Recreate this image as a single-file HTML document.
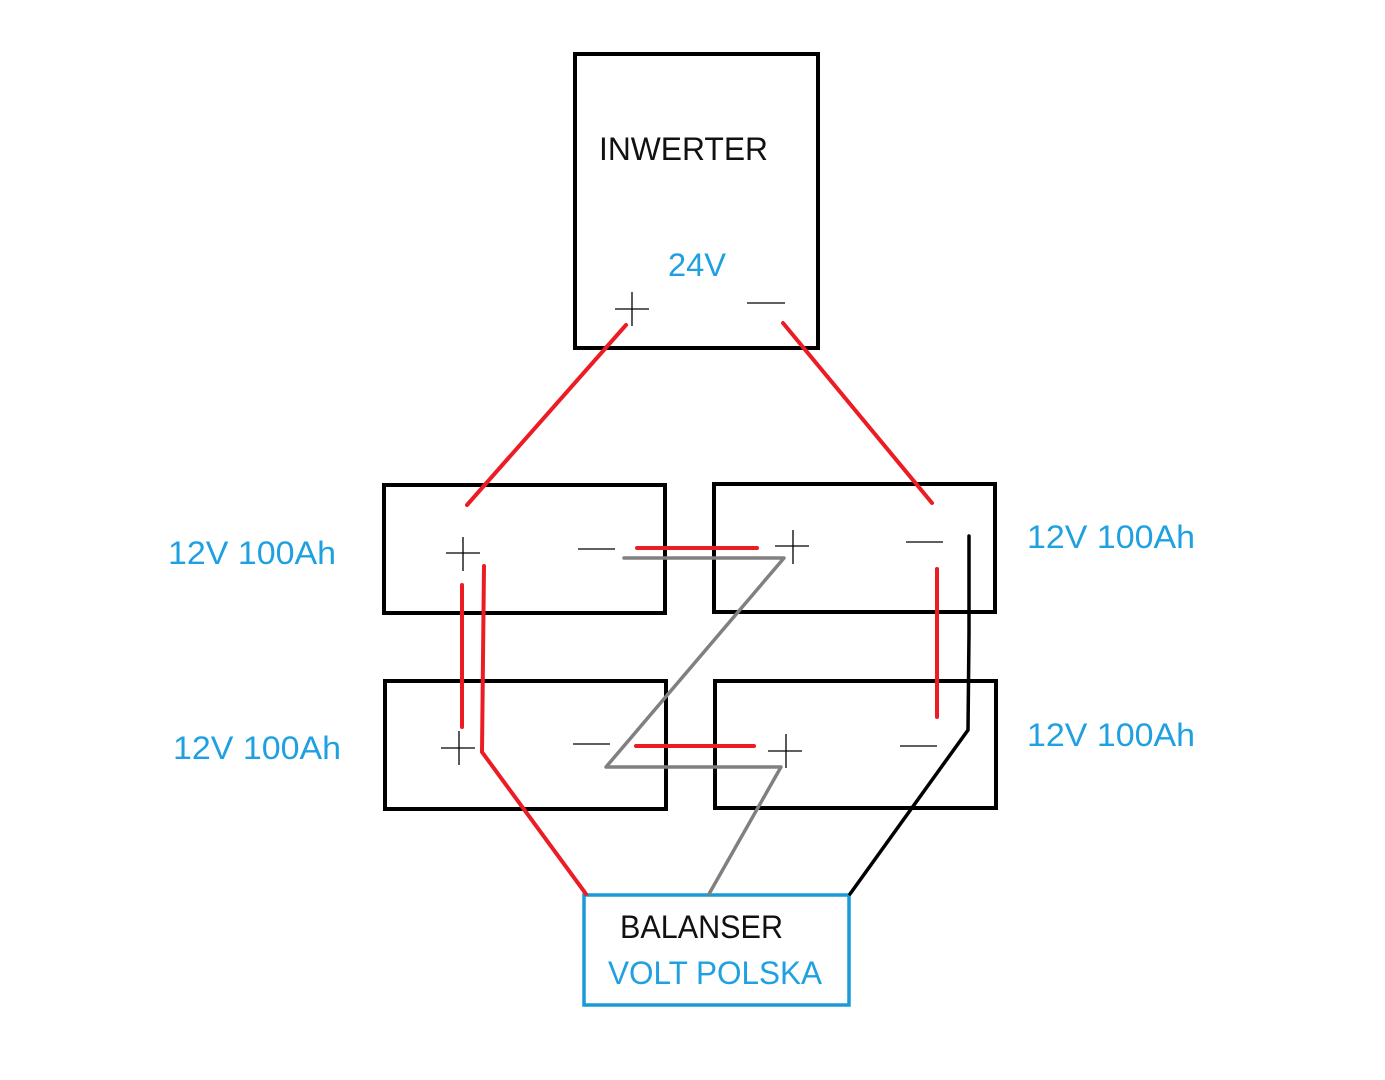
<!DOCTYPE html>
<html><head><style>html,body{margin:0;padding:0;background:#fff}svg{display:block}</style></head>
<body>
<svg width="1385" height="1080" viewBox="0 0 1385 1080" xmlns="http://www.w3.org/2000/svg" font-family="Liberation Sans, sans-serif">
<rect width="1385" height="1080" fill="#fff"/>
<g fill="none" stroke="#000" stroke-width="4">
<rect x="575" y="54" width="243" height="294"/>
<rect x="384" y="485" width="281" height="128"/>
<rect x="714" y="484" width="281" height="128"/>
<rect x="385" y="681" width="281" height="128"/>
<rect x="715" y="681" width="281" height="127"/>
</g>
<rect x="584" y="895" width="265" height="110" fill="none" stroke="#1a9ad6" stroke-width="3.5"/>
<g stroke="#000" stroke-width="1.3">
<path d="M615 309h34M632 292v34"/>
<path d="M747 303h38"/>
<path d="M446 553h34M463 537v34"/>
<path d="M578 549h37"/>
<path d="M775 546h34M793 530v34"/>
<path d="M906 542h37"/>
<path d="M441 748h34M459 731v34"/>
<path d="M573 744h37"/>
<path d="M768 751h34M786 734v34"/>
<path d="M900 746h37"/>
</g>
<g fill="none" stroke="#ec1c24" stroke-width="4" stroke-linecap="round">
<path d="M626 325L467 505"/>
<path d="M783 323L932 503"/>
<path d="M637 548H757"/>
<path d="M636 746H754"/>
<path d="M462 585V727"/>
<path d="M484 566L482 752L586 894"/>
<path d="M937 569V717"/>
</g>
<path d="M969 536V633L968 730L850 894" fill="none" stroke="#000" stroke-width="3.5" stroke-linecap="round"/>
<path d="M624 558H784L606 767H781L709 894" fill="none" stroke="#808080" stroke-width="3.5" stroke-linejoin="round" stroke-linecap="round"/>
<g font-size="32">
<text x="599" y="160" fill="#111" textLength="169" lengthAdjust="spacingAndGlyphs">INWERTER</text>
<text x="668" y="276" fill="#1fa0e0" textLength="58" lengthAdjust="spacingAndGlyphs">24V</text>
<text x="168" y="564" fill="#1fa0e0" textLength="168" lengthAdjust="spacingAndGlyphs">12V 100Ah</text>
<text x="1027" y="548" fill="#1fa0e0" textLength="168" lengthAdjust="spacingAndGlyphs">12V 100Ah</text>
<text x="173" y="759" fill="#1fa0e0" textLength="168" lengthAdjust="spacingAndGlyphs">12V 100Ah</text>
<text x="1027" y="746" fill="#1fa0e0" textLength="168" lengthAdjust="spacingAndGlyphs">12V 100Ah</text>
<text x="620" y="938" fill="#111" textLength="163" lengthAdjust="spacingAndGlyphs">BALANSER</text>
<text x="608" y="984" fill="#1fa0e0" textLength="214" lengthAdjust="spacingAndGlyphs">VOLT POLSKA</text>
</g>
</svg>
</body></html>
